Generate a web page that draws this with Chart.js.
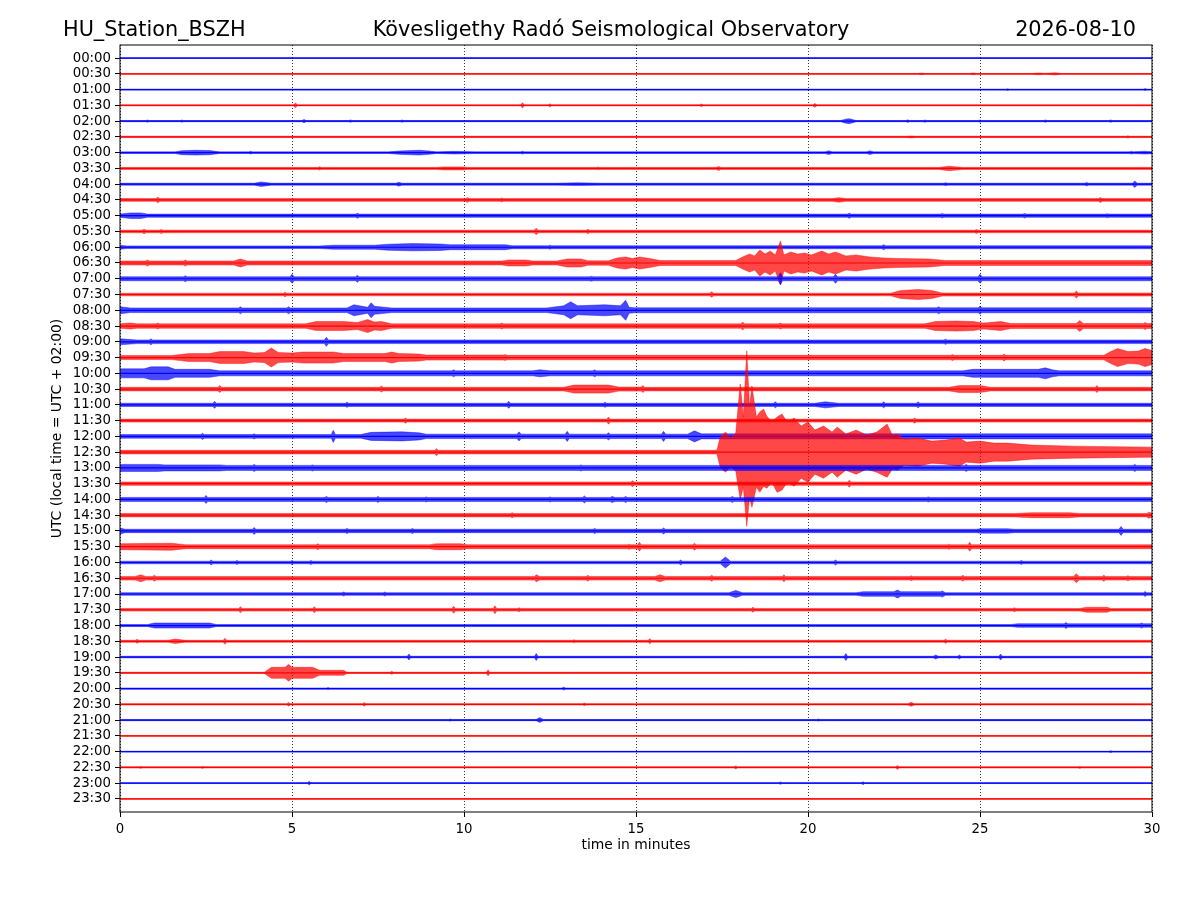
<!DOCTYPE html>
<html>
<head>
<meta charset="utf-8">
<title>HU_Station_BSZH helicorder</title>
<script src="https://cdn.jsdelivr.net/npm/chart.js@4.4.1/dist/chart.umd.min.js"></script>
<style>
  html, body { margin: 0; background: #fff; }
  #wrap { width: 1200px; height: 900px; }
</style>
</head>
<body>
<div id="wrap"><canvas id="heli" width="1200" height="900"></canvas></div>
<script>
// Row labels (start of each 30 minute trace, UTC)
const rowLabels = [
  '00:00','00:30','01:00','01:30','02:00','02:30','03:00','03:30','04:00','04:30',
  '05:00','05:30','06:00','06:30','07:00','07:30','08:00','08:30','09:00','09:30',
  '10:00','10:30','11:00','11:30','12:00','12:30','13:00','13:30','14:00','14:30',
  '15:00','15:30','16:00','16:30','17:00','17:30','18:00','18:30','19:00','19:30',
  '20:00','20:30','21:00','21:30','22:00','22:30','23:00','23:30'
];
const minuteTicks = [0, 5, 10, 15, 20, 25, 30];

// Envelope of each trace: [minute, half amplitude] (optional 3rd = lower half amplitude)
// amplitude units: 1 unit = 1/15.72 of the spacing between traces
const traces = [
  [[0,.3],[30,.3]],
  [[0,.4],[23.2,.4],[23.3,.8],[23.4,.4],[24.7,.4],[24.8,.9],[24.9,.4],[26.5,.4],[26.7,.9],[26.9,.5],[27.2,1.1],[27.35,.4],[30,.4]],
  [[0,.5],[25.75,.5],[25.8,.9],[25.85,.5],[29.75,.5],[29.8,1],[29.85,.5],[30,.5]],
  [[0,.5],[5.04,.5],[5.1,2.3],[5.16,.5],[11.64,.5],[11.7,2.5],[11.76,.5],[12.45,.5],[12.5,1.6],[12.55,.5],[16.85,.5],[16.9,1.4],[16.95,.5],[20.14,.5],[20.2,1.9],[20.26,.5],[30,.5]],
  [[0,.6],[0.75,.6],[0.8,1.1],[0.85,.6],[1.75,.6],[1.8,1.1],[1.85,.6],[5.29,.6],[5.35,1.7],[5.41,.6],[6.65,.6],[6.7,1.2],[6.75,.6],[8.15,.6],[8.2,1.2],[8.25,.6],[20.95,.6],[21.1,2],[21.2,2.5],[21.4,.6],[22.85,.6],[22.9,1.3],[22.95,.6],[23.35,.6],[23.4,1.2],[23.45,.6],[24.95,.6],[25,1.2],[25.05,.6],[26.85,.6],[26.9,1.2],[26.95,.6],[28.75,.6],[28.8,1.2],[28.85,.6],[30,.6]],
  [[0,.7],[22.85,.7],[23,1],[23.15,.7],[29.25,.7],[29.3,1.2],[29.35,.7],[30,.7]],
  [[0,.8],[1.6,.8],[1.8,2],[2.2,2.4],[2.6,2.1],[2.9,.8],[3.75,.8],[3.8,1.3],[3.85,.8],[7.8,.8],[8.1,1.6],[8.7,2.4],[9,1.6],[9.2,.8],[9.7,1.3],[10,1.2],[10.3,.9],[11.65,.9],[11.7,1.4],[11.75,.9],[20.5,.9],[20.6,1.9],[20.7,.9],[21.7,.9],[21.8,1.9],[21.9,.9],[29.35,.9],[29.4,1.4],[29.45,.9],[29.8,1.4],[30,1]],
  [[0,1],[5.75,1],[5.8,1.7],[5.85,1],[9.2,1],[9.4,1.5],[10,1.5],[10.1,1],[13.85,1],[13.9,1.4],[13.95,1],[17.33,1],[17.4,2],[17.47,1],[23.8,1],[24.1,2.2],[24.5,1],[30,1]],
  [[0,1],[3.9,1],[4.1,2.2],[4.4,1],[8.03,1],[8.1,2],[8.2,1],[12.7,1],[13.3,1.4],[14,1],[23.95,1],[24,1.5],[24.05,1],[28.05,1],[28.1,1.8],[28.15,1],[29.43,1],[29.5,3.2],[29.57,1],[30,1]],
  [[0,1.4],[1.04,1.4],[1.1,2.8],[1.16,1.4],[10.04,1.4],[10.1,2.3],[10.16,1.4],[11.05,1.4],[11.1,2],[11.15,1.4],[20.7,1.4],[20.9,2.3],[21.1,1.4],[28.44,1.4],[28.5,2.5],[28.56,1.4],[30,1.4]],
  [[0,1.6],[0.3,2.8],[0.6,2.8],[0.8,1.6],[6.85,1.6],[6.9,2.5],[6.95,1.6],[21.14,1.6],[21.2,2.5],[21.26,1.6],[23.85,1.6],[23.9,2.2],[23.95,1.6],[26.25,1.6],[26.3,2.3],[26.35,1.6],[28.65,1.6],[28.7,2],[28.75,1.6],[30,1.6]],
  [[0,1.3],[0.64,1.3],[0.7,2.2],[0.76,1.3],[1.15,1.3],[1.2,2],[1.25,1.3],[12.04,1.3],[12.1,3.2],[12.16,1.3],[13.55,1.3],[13.6,2.2],[13.65,1.3],[24.85,1.3],[24.9,2],[24.95,1.3],[30,1.3]],
  [[0,2],[0.2,1.3],[5.8,1.3],[6.2,2],[7.4,2],[7.8,3],[8.5,3.6],[9.3,3.2],[9.6,2.5],[11.2,2.5],[11.4,1.5],[12.45,1.5],[12.5,2],[12.55,1.5],[22.14,1.5],[22.2,2.5],[22.26,1.5],[30,1.5]],
  [[0,2],[0.74,2],[0.8,3],[0.86,2],[1.84,2],[1.9,3],[1.96,2],[3.3,2],[3.5,4],[3.7,2],[11.1,2],[11.3,3],[11.8,3],[12,2],[12.7,2],[13,4],[13.4,4],[13.6,2.2],[14.2,2.2],[14.45,5],[14.7,6],[14.9,4.5],[15.1,6],[15.4,4.5],[15.7,2.5],[17.3,2.5],[17.9,2.5],[18.1,6],[18.3,9],[18.45,7],[18.6,13],[18.75,9],[18.9,12],[19.05,8],[19.2,22],[19.3,8],[19.5,11],[19.7,9],[19.9,10],[20.1,8],[20.4,12],[20.6,9],[20.8,11],[21.1,7],[21.4,8],[21.8,6],[22.2,5],[22.6,4.5],[23.5,4],[24,2.5],[30,2.5]],
  [[0,2],[1.85,2],[1.9,3],[1.95,2],[4.94,2],[5,4.5],[5.06,2],[6.85,2],[6.9,3.5],[6.95,2],[13.65,2],[13.7,2.5],[13.75,2],[19.14,2],[19.2,6],[19.26,2],[20.74,2],[20.8,4.5],[20.86,2],[24.94,2],[25,4.5],[25.06,2],[30,2]],
  [[0,1.3],[4.75,1.3],[4.8,2.2],[4.85,1.3],[17.14,1.3],[17.2,2.7],[17.26,1.3],[22.4,1.3],[22.7,4],[23.2,5],[23.6,4],[23.9,1.5],[27.74,1.5],[27.8,3.5],[27.86,1.5],[30,1.5]],
  [[0,3.5],[0.3,2.3],[3.45,2.3],[3.5,3.5],[3.55,2.3],[4.85,2.3],[4.9,3.5],[4.95,2.3],[6.6,2.3],[6.8,5.5],[7.2,3],[7.3,7.5],[7.4,4],[7.9,2.3],[12.4,2.3],[12.9,4.5],[13.1,8.5],[13.3,4.5],[14.1,5.5],[14.55,4.5],[14.7,10],[14.8,3],[14.95,2.5],[23.75,2.5],[23.8,3.5],[23.85,2.5],[24.95,2.5],[25,4],[25.05,2.5],[30,2.5]],
  [[0,2.2],[0.3,3],[0.5,2.2],[1.05,2.2],[1.1,3],[1.15,2.2],[5.4,2.2],[5.7,4.5],[6.5,4.5],[6.9,3.5],[7.2,6.5],[7.4,4],[7.6,4.5],[7.9,2.2],[11.05,2.2],[11.1,3],[11.15,2.2],[18.05,2.2],[18.1,4],[18.15,2.2],[19.15,2.2],[19.2,3],[19.25,2.2],[23.4,2.2],[23.7,4.5],[24.3,5],[24.8,4.5],[25.1,3],[25.6,4.5],[25.9,2.5],[27.8,2.5],[27.9,5.5],[28,2.5],[29.75,2.5],[29.8,3.5],[29.85,2.5],[30,2.5]],
  [[0,3],[0.5,1.8],[0.85,1.8],[0.9,3],[0.95,1.8],[5.94,1.8],[6,4.5],[6.06,1.8],[23.95,1.8],[24,2.5],[24.05,1.8],[30,1.8]],
  [[0,2],[1.5,2],[2,4],[2.6,4],[2.9,6],[3.6,6],[3.9,4.5],[4.2,5],[4.4,9.5],[4.6,5],[5,4.5],[5.3,5.5],[6.2,5.5],[6.5,4],[7.7,4],[7.9,5.5],[8.1,4],[8.7,3.5],[8.9,2.5],[10,2.5],[11.15,2.5],[11.2,3],[11.25,2.2],[24.15,2.2],[24.2,3],[24.25,2.2],[25.65,2.2],[25.7,3.5],[25.75,2.2],[28.6,2.2],[28.8,6],[29,9],[29.3,6],[29.6,6.5],[29.8,9],[30,7]],
  [[0,4.5],[0.7,4.5],[0.9,6.5],[1.4,6.5],[1.6,4],[2.6,4],[2.9,2.5],[9.65,2.5],[9.7,3.5],[9.75,2.5],[12,2.5],[12.2,3.5],[12.5,2.5],[13.75,2.5],[13.8,3.5],[13.85,2.5],[24.5,2.5],[24.8,4],[26.7,4],[26.9,5.5],[27.1,3.5],[27.3,2.5],[30,2.5]],
  [[0,1.8],[2.85,1.8],[2.9,3.5],[2.95,1.8],[7.55,1.8],[7.6,3],[7.65,1.8],[12.9,1.8],[13.2,4],[14.2,4],[14.5,2],[15.15,2],[15.2,3.5],[15.25,1.8],[24.1,1.8],[24.4,3.5],[25,3.5],[25.3,1.8],[28.35,1.8],[28.4,3.5],[28.45,1.8],[30,1.8]],
  [[0,1.6],[2.7,1.6],[2.75,3.5],[2.8,1.6],[6.55,1.6],[6.6,2.5],[6.65,1.6],[11.25,1.6],[11.3,3.5],[11.35,1.6],[14.05,1.6],[14.1,2.5],[14.15,1.6],[19,1.6],[19.05,3],[19.1,1.6],[20.2,1.6],[20.5,3],[20.9,1.6],[22.15,1.6],[22.2,3],[22.25,1.6],[23.15,1.6],[23.2,3],[23.25,1.6],[30,1.6]],
  [[0,1.5],[8.25,1.5],[8.3,2.5],[8.35,1.5],[14.15,1.5],[14.2,3.5],[14.25,1.5],[23.05,1.5],[23.1,2.5],[23.15,1.5],[30,1.5]],
  [[0,1.8],[2.35,1.8],[2.4,3],[2.45,1.8],[3.85,1.8],[3.9,2.5],[3.95,1.8],[6.14,1.8],[6.2,6],[6.26,1.8],[7,1.8],[7.3,4],[8.2,4.5],[8.7,3.5],[8.9,2.2],[11.54,2.2],[11.6,4.5],[11.66,2.2],[12.94,2.2],[13,5],[13.06,2.2],[14.15,2.2],[14.2,3.5],[14.25,2.2],[15.74,2.2],[15.8,5],[15.86,2.2],[16.5,2.2],[16.7,5.5],[16.9,2.5],[30,2.5]],
  [[0,1.8],[9.15,1.8],[9.2,3.5],[9.25,1.8],[17.35,1.8],[17.45,15],[17.6,20],[17.75,14],[17.9,19],[18.03,68,47],[18.12,35],[18.22,101,74],[18.3,45],[18.37,66,55],[18.5,35],[18.6,40],[18.71,43,34],[18.8,36],[18.95,30],[19.1,35,40],[19.24,38],[19.4,30],[19.6,34],[19.8,26],[20,30],[20.2,22],[20.45,26],[20.7,20],[20.85,25],[21.1,18],[21.4,22],[21.7,17],[22,20],[22.3,28,25],[22.45,17],[22.6,18],[22.8,13],[23.2,14],[23.6,11],[24,12],[24.4,14],[24.6,10],[25,11],[25.4,9],[25.8,9],[26.5,7],[27.7,6],[30,5]],
  [[0,3.5],[1.1,3.5],[1.3,3],[2.9,3],[3.1,2.5],[3.85,2.5],[3.9,3.5],[3.95,2.5],[5.55,2.5],[5.6,3],[5.65,2.5],[13.35,2.5],[13.4,3],[13.45,2.5],[24.55,2.5],[24.6,3.5],[24.65,2.5],[29.45,2.5],[29.5,3.5],[29.55,2.5],[30,2.5]],
  [[0,1.7],[14.85,1.7],[14.9,3],[14.95,1.7],[21.15,1.7],[21.2,3.5],[21.25,1.7],[30,1.7]],
  [[0,2],[2.45,2],[2.5,4],[2.55,2],[5.95,2],[6,3],[6.05,2],[7.45,2],[7.5,3],[7.55,2],[8.85,2],[8.9,2.5],[8.95,2],[12.45,2],[12.5,2.5],[12.55,2],[13.45,2],[13.5,3.5],[13.55,2],[14.25,2],[14.3,3],[14.4,2],[14.65,2],[14.7,3],[14.75,2],[17.75,2],[17.8,3],[17.85,2],[23.45,2],[23.5,2.5],[23.55,2],[30,2]],
  [[0,1.7],[11.35,1.7],[11.4,2.5],[11.45,1.7],[26,1.7],[26.5,2.5],[27.6,2.5],[27.9,1.7],[29.85,1.7],[29.9,3],[30,2]],
  [[0,3],[0.15,1.7],[3.85,1.7],[3.9,3.5],[3.95,1.7],[6.55,1.7],[6.6,2.5],[6.65,1.7],[8.45,1.7],[8.5,2.5],[8.55,1.7],[13.75,1.7],[13.8,2.5],[13.85,1.7],[15.75,1.7],[15.8,3],[15.85,1.7],[24.9,1.7],[25,2.2],[25.8,2.2],[26,1.7],[29.04,1.7],[29.1,4.5],[29.16,1.7],[30,1.7]],
  [[0,3],[1.5,3.5],[1.9,2],[5.7,2],[5.75,3],[5.8,2],[9,2],[9.2,3],[9.9,3],[10.1,2],[14.75,2],[14.8,2.5],[14.85,2],[15.05,2],[15.1,4.5],[15.15,2],[16.65,2],[16.7,3.5],[16.75,2],[24.05,2],[24.1,2.5],[24.15,2],[24.65,2],[24.7,4.5],[24.75,2],[30,2]],
  [[0,1.3],[2.6,1.3],[2.65,2.5],[2.7,1.3],[3.35,1.3],[3.4,2],[3.45,1.3],[4.95,1.3],[5,2],[5.05,1.3],[5.5,1.3],[5.55,2],[5.6,1.3],[16.25,1.3],[16.3,2.5],[16.35,1.3],[17.45,1.3],[17.6,5.5],[17.75,1.3],[20.75,1.3],[20.8,2.5],[20.85,1.3],[26.15,1.3],[26.2,2],[26.25,1.3],[30,1.3]],
  [[0,1.8],[0.45,1.8],[0.6,3.5],[0.75,1.8],[0.95,1.8],[1,3],[1.05,1.8],[12.05,1.8],[12.1,3.5],[12.2,1.8],[13.55,1.8],[13.6,3],[13.65,1.8],[15.55,1.8],[15.7,3.5],[15.85,1.8],[17.15,1.8],[17.2,3],[17.25,1.8],[19.25,1.8],[19.3,3.5],[19.35,1.8],[22.95,1.8],[23,2.5],[23.05,1.8],[24.45,1.8],[24.5,3],[24.55,1.8],[27.72,1.8],[27.8,4.5],[27.88,1.8],[28.55,1.8],[28.6,3],[28.65,1.8],[29.25,1.8],[29.3,2.5],[29.35,1.8],[30,1.8]],
  [[0,1.3],[6.45,1.3],[6.5,2],[6.55,1.3],[7.65,1.3],[7.7,2],[7.75,1.3],[17.7,1.3],[17.9,3.5],[18.1,1.3],[21.4,1.3],[21.6,2.3],[22.5,2.3],[22.6,4],[22.7,2.3],[23.85,2.3],[23.9,3],[24,1.3],[29.75,1.3],[29.8,2.5],[29.85,1.3],[30,1.3]],
  [[0,1.3],[3.45,1.3],[3.5,3],[3.55,1.3],[5.6,1.3],[5.65,3],[5.7,1.3],[9.65,1.3],[9.7,3.5],[9.75,1.3],[10.85,1.3],[10.9,4],[10.95,1.3],[11.55,1.3],[11.6,2],[11.65,1.3],[18.35,1.3],[18.4,2.5],[18.45,1.3],[25.95,1.3],[26,2],[26.05,1.3],[27.9,1.3],[28.1,2.5],[28.7,2.5],[28.8,1.3],[30,1.3]],
  [[0,1],[0.8,1],[1,2.5],[2.6,2.5],[2.8,1],[25.9,1],[26.1,1.8],[27.45,1.8],[27.5,3],[27.55,1.8],[29.65,1.8],[29.7,2.5],[29.75,1.8],[30,1.8]],
  [[0,1],[0.45,1],[0.5,2],[0.55,1],[1.4,1],[1.6,2.2],[1.9,1],[3,1],[3.05,3],[3.1,1],[13.15,1],[13.2,1.5],[13.25,1],[15.35,1],[15.4,2.5],[15.45,1],[23.95,1],[24,2],[24.05,1],[30,1]],
  [[0,.8],[8.35,.8],[8.4,3],[8.45,.8],[12.05,.8],[12.1,3.5],[12.15,.8],[21.05,.8],[21.1,3.5],[21.15,.8],[23.65,.8],[23.7,2],[23.8,.8],[24.35,.8],[24.4,2],[24.45,.8],[25.55,.8],[25.6,3],[25.65,.8],[30,.8]],
  [[0,.6],[4.2,.6],[4.4,5.5],[4.8,5.5],[4.9,8.5],[5,5.5],[5.6,5.5],[5.8,2.5],[6.5,2.5],[6.6,.6],[7.85,.6],[7.9,1.5],[7.95,.6],[10.65,.6],[10.7,3],[10.75,.6],[30,.6]],
  [[0,.6],[6,.6],[6.05,1],[6.1,.6],[12.85,.6],[12.9,1.5],[12.95,.6],[30,.6]],
  [[0,.7],[4.85,.7],[4.9,1.8],[4.95,.7],[7.05,.7],[7.1,1.8],[7.15,.7],[13.45,.7],[13.5,1.3],[13.55,.7],[22.9,.7],[23,2],[23.1,.7],[30,.7]],
  [[0,.6],[9.55,.6],[9.6,1],[9.65,.6],[12.1,.6],[12.2,2.5],[12.3,.6],[20.25,.6],[20.3,1],[20.35,.6],[30,.6]],
  [[0,.4],[30,.4]],
  [[0,.4],[28.75,.4],[28.8,1],[28.85,.4],[30,.4]],
  [[0,.6],[0.55,.6],[0.6,1],[0.65,.6],[2.35,.6],[2.4,1],[2.45,.6],[17.85,.6],[17.9,1.5],[17.95,.6],[22.55,.6],[22.6,2],[22.65,.6],[27.85,.6],[27.9,1],[27.95,.6],[30,.6]],
  [[0,.4],[5.45,.4],[5.5,1.8],[5.55,.4],[19.15,.4],[19.2,1.2],[19.25,.4],[21.55,.4],[21.6,1.5],[21.65,.4],[30,.4]],
  [[0,.4],[30,.4]]
];

const ampUnit = 1 / 15.72;
const font = '"DejaVu Sans", "Liberation Sans", sans-serif';

Chart.defaults.font.family = font;
Chart.defaults.color = '#000';

// per trace: a solid centre line, then the envelope (upper filled down to lower)
const datasets = [];
traces.forEach((pts, row) => {
  const blue = row % 2 === 0;
  const color = blue ? '#0000ff' : '#ff0000';
  const band = blue ? 'rgba(0,0,255,0.72)' : 'rgba(255,0,0,0.72)';
  datasets.push({
    data: [{ x: minuteTicks[0], y: row }, { x: minuteTicks[minuteTicks.length - 1], y: row }],
    borderColor: color,
    borderWidth: 1.2,
    pointRadius: 0,
    fill: false,
    order: -row
  });
  datasets.push({
    data: pts.map(p => ({ x: p[0], y: row - p[1] * ampUnit })),
    borderColor: band,
    backgroundColor: band,
    borderWidth: 0.6,
    pointRadius: 0,
    fill: '+1',
    order: -row
  });
  datasets.push({
    data: pts.map(p => ({ x: p[0], y: row + (p[2] !== undefined ? p[2] : p[1]) * ampUnit })),
    borderColor: band,
    borderWidth: 0.6,
    pointRadius: 0,
    fill: false,
    order: -row
  });
});

// titles, axis labels and the frame
const frameAndText = {
  id: 'frameAndText',
  afterDraw(chart) {
    const { ctx, chartArea: a } = chart;
    ctx.save();
    ctx.strokeStyle = '#000';
    ctx.lineWidth = 1;
    ctx.strokeRect(a.left, a.top, a.right - a.left, a.bottom - a.top);

    ctx.fillStyle = '#000';
    ctx.font = '20.8px ' + font;
    ctx.textBaseline = 'alphabetic';
    ctx.textAlign = 'left';
    ctx.fillText('HU_Station_BSZH', 63, 35.5);
    ctx.textAlign = 'center';
    ctx.fillText('Kövesligethy Radó Seismological Observatory', 611, 35.5);
    ctx.textAlign = 'right';
    ctx.fillText('2026-08-10', 1136, 35.5);

    ctx.font = '13.9px ' + font;
    ctx.textAlign = 'center';
    ctx.textBaseline = 'middle';
    ctx.fillText('time in minutes', (a.left + a.right) / 2, 845);
    ctx.translate(57, (a.top + a.bottom) / 2);
    ctx.rotate(-Math.PI / 2);
    ctx.fillText('UTC (local time = UTC + 02:00)', 0, 0);
    ctx.restore();
  }
};

new Chart(document.getElementById('heli'), {
  type: 'line',
  data: { datasets },
  options: {
    responsive: false,
    animation: false,
    devicePixelRatio: 1,
    events: [],
    layout: { padding: { top: 45, right: 48, left: 0, bottom: 0 } },
    elements: { line: { tension: 0 } },
    plugins: {
      legend: { display: false },
      tooltip: { enabled: false },
      filler: { propagate: false }
    },
    scales: {
      x: {
        type: 'linear',
        min: 0,
        max: 30,
        afterFit: s => { s.height = 88; },
        afterBuildTicks: s => { s.ticks = minuteTicks.map(v => ({ value: v })); },
        grid: { color: '#000', lineWidth: 0.8, tickLength: 5, tickWidth: 1, tickColor: '#000' },
        border: { display: false, dash: [1, 2] },
        ticks: { color: '#000', font: { size: 13.3 }, padding: 5, maxRotation: 0 }
      },
      y: {
        type: 'linear',
        reverse: true,
        min: -0.83,
        max: 47.83,
        afterFit: s => { s.width = 120; },
        afterBuildTicks: s => { s.ticks = rowLabels.map((_, i) => ({ value: i })); },
        grid: { drawOnChartArea: false, tickLength: 5, color: '#000' },
        border: { display: false },
        ticks: {
          color: '#000',
          font: { size: 13.3 },
          padding: 4,
          autoSkip: false,
          callback: v => rowLabels[v]
        }
      }
    }
  },
  plugins: [frameAndText]
});
</script>
</body>
</html>
